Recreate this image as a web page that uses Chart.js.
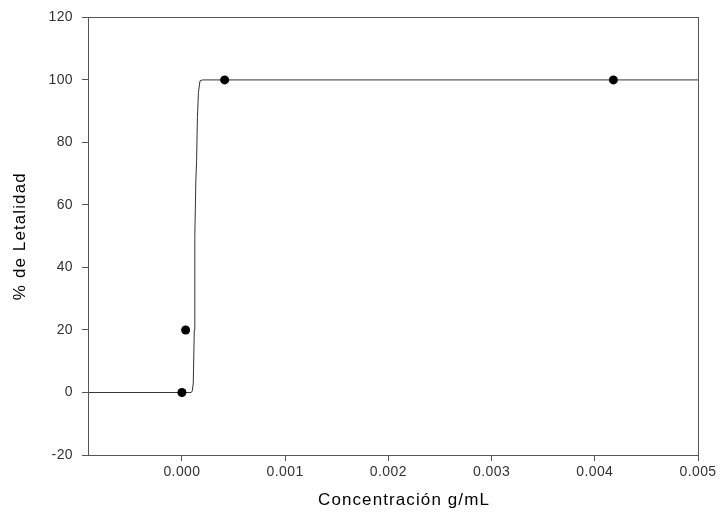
<!DOCTYPE html>
<html>
<head>
<meta charset="utf-8">
<script src="https://cdn.jsdelivr.net/npm/chart.js@4/dist/chart.umd.min.js"></script>
<style>
  body { margin: 0; background: #fff; }
  canvas { display: block; }
</style>
</head>
<body>
<canvas id="chart" width="723" height="531"></canvas>
<script>
// measured points
const pointX = [0.0, 0.000036, 0.000414, 0.00418];
const pointY = [0, 20, 100, 100];

// fitted curve
const fitX = [-0.00091, 0.00009, 0.0001, 0.00011, 0.00012, 0.000125, 0.000135, 0.000142, 0.00015, 0.00016, 0.000175, 0.0002, 0.005];
const fitY = [0, 0, 0.5, 3, 20, 50, 68, 74, 88, 96, 99.7, 100, 100];

// axes
const xTicks = [0, 0.001, 0.002, 0.003, 0.004, 0.005];
const xMin = -0.00091, xMax = 0.005;
const yTicks = [-20, 0, 20, 40, 60, 80, 100, 120];

const xTitle = 'Concentración g/mL';
const yTitle = '% de Letalidad';

const axisColor = '#555';
const textColor = '#333';
const fontFamily = 'Liberation Sans, Arial, sans-serif';

// slightly wider tick text, like the old GDI rendering
const spacing = {
  id: 'spacing',
  beforeDraw(chart) { chart.ctx.letterSpacing = '0.4px'; }
};

// axis titles + outline round the plot area
const frame = {
  id: 'frame',
  afterDraw(chart) {
    const { ctx, chartArea: a } = chart;
    ctx.save();
    ctx.strokeStyle = axisColor;
    ctx.lineWidth = 1;
    ctx.strokeRect(Math.round(a.left) + 0.5, Math.round(a.top) + 0.5, Math.round(a.right - a.left), Math.round(a.bottom - a.top));

    ctx.fillStyle = '#000';
    ctx.font = '17px ' + fontFamily;
    ctx.letterSpacing = '1.1px';
    ctx.textAlign = 'center';
    ctx.textBaseline = 'middle';
    ctx.fillText(xTitle, 404, 500);
    ctx.translate(20, (a.top + a.bottom) / 2);
    ctx.rotate(-Math.PI / 2);
    ctx.fillText(yTitle, 0, 0);
    ctx.restore();
  }
};

const ctx = document.getElementById('chart').getContext('2d');
new Chart(ctx, {
  type: 'scatter',
  data: {
    datasets: [
      {
        label: 'fit',
        data: fitX.map((x, i) => ({ x, y: fitY[i] })),
        showLine: true,
        borderColor: '#333',
        borderWidth: 1,
        pointRadius: 0,
        tension: 0,
        order: 2
      },
      {
        label: 'data',
        data: pointX.map((x, i) => ({ x, y: pointY[i] })),
        backgroundColor: '#000',
        borderWidth: 0,
        pointRadius: 4.5,
        order: 1
      }
    ]
  },
  options: {
    responsive: false,
    animation: false,
    layout: { padding: { top: 17, right: 25, left: 0, bottom: 0 } },
    plugins: { legend: { display: false }, tooltip: { enabled: false } },
    scales: {
      x: {
        type: 'linear',
        min: xMin,
        max: xMax,
        afterBuildTicks: s => { s.ticks = xTicks.map(v => ({ value: v })); },
        afterFit: s => { s.height = 76; },
        grid: { drawOnChartArea: false, drawTicks: true, tickLength: 6, color: axisColor },
        border: { display: true, color: axisColor },
        ticks: {
          color: textColor,
          padding: 3,
          maxRotation: 0,
          font: { family: fontFamily, size: 14 },
          callback: v => Number(v).toFixed(3)
        }
      },
      y: {
        min: -20,
        max: 120,
        afterBuildTicks: s => { s.ticks = yTicks.map(v => ({ value: v })); },
        afterFit: s => { s.width = 88; },
        grid: { drawOnChartArea: false, drawTicks: true, tickLength: 6, color: axisColor },
        border: { display: true, color: axisColor },
        ticks: {
          color: textColor,
          padding: 9,
          font: { family: fontFamily, size: 14 }
        }
      }
    }
  },
  plugins: [spacing, frame]
});
</script>
</body>
</html>
